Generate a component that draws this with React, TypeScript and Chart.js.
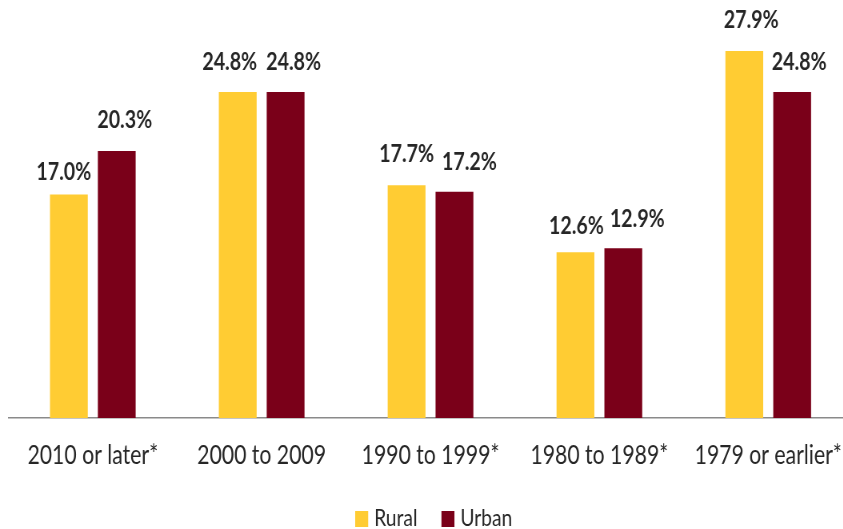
import React, { useEffect, useRef } from "react";
import { Chart, registerables } from "chart.js";

Chart.register(...registerables);

const categories = ["2010 or later*", "2000 to 2009", "1990 to 1999*", "1980 to 1989*", "1979 or earlier*"];
const ruralValues = [17.0, 24.8, 17.7, 12.6, 27.9];
const urbanValues = [20.3, 24.8, 17.2, 12.9, 24.8];
const seriesNames = ["Rural", "Urban"];

const RURAL_COLOR = "#FFCC33";
const URBAN_COLOR = "#7A0019";
const TEXT_COLOR = "#262626";
const FAMILY = "Lato, 'Open Sans', sans-serif";

// the original picture is horizontally condensed; draw wide and squeeze it
const SQUEEZE = 0.8;
const VIEW_W = 843;
const VIEW_H = 529;
const CANVAS_W = Math.round(860 / SQUEEZE);

// small label nudges (dx, dy) in screen pixels, mimicking the original label placement
const labelNudges = [
  [[-5, 8], [-8, 0], [0, -1], [1, 4], [7, -1]],
  [[8, -1], [8, 0], [15, 0], [14, 1], [7, 0]],
];

const valueLabelPlugin = {
  id: "valueLabels",
  afterDatasetsDraw(chart: any) {
    const ctx = chart.ctx;
    ctx.save();
    ctx.font = `bold 24.5px ${FAMILY}`;
    ctx.fillStyle = TEXT_COLOR;
    ctx.textAlign = "center";
    ctx.textBaseline = "alphabetic";
    chart.data.datasets.forEach((ds: any, di: number) => {
      const meta = chart.getDatasetMeta(di);
      meta.data.forEach((bar: any, i: number) => {
        const v = ds.data[i] as number;
        const n = labelNudges[di][i];
        ctx.fillText(v.toFixed(1) + "%", bar.x + n[0] / SQUEEZE, bar.y - 22 + n[1]);
      });
    });
    ctx.restore();
  },
};

const customLegendPlugin = {
  id: "customLegend",
  afterDraw(chart: any) {
    const ctx = chart.ctx;
    const area = chart.chartArea;
    ctx.save();
    ctx.font = `24px ${FAMILY}`;
    ctx.textBaseline = "alphabetic";
    ctx.textAlign = "left";
    const boxW = 13 / SQUEEZE;
    const boxH = 16;
    const gap = 6 / SQUEEZE;
    const spacing = 24 / SQUEEZE;
    const items = chart.data.datasets.map((ds: any) => ({
      label: ds.label,
      color: ds.backgroundColor,
      w: ctx.measureText(ds.label).width,
    }));
    const total = items.reduce((s: number, it: any, i: number) => s + boxW + gap + it.w + (i > 0 ? spacing : 0), 0);
    let x = (area.left + area.right) / 2 + 4 - total / 2;
    const baseline = 526;
    items.forEach((it: any) => {
      ctx.fillStyle = it.color;
      ctx.fillRect(x, baseline - 15, boxW, boxH);
      ctx.fillStyle = TEXT_COLOR;
      ctx.fillText(it.label, x + boxW + gap, baseline);
      x += boxW + gap + it.w + spacing;
    });
    ctx.restore();
  },
};

export default function App() {
  const canvasRef = useRef<HTMLCanvasElement | null>(null);

  useEffect(() => {
    if (!canvasRef.current) return;
    Chart.defaults.font.family = FAMILY;
    const chart = new Chart(canvasRef.current, {
      type: "bar",
      data: {
        labels: categories,
        datasets: [
          {
            label: seriesNames[0],
            data: ruralValues,
            backgroundColor: RURAL_COLOR,
            categoryPercentage: 0.567,
            barPercentage: 0.79,
          },
          {
            label: seriesNames[1],
            data: urbanValues,
            backgroundColor: URBAN_COLOR,
            categoryPercentage: 0.567,
            barPercentage: 0.79,
          },
        ],
      },
      options: {
        responsive: false,
        animation: false,
        devicePixelRatio: 1,
        layout: {
          padding: {
            left: 8.4 / SQUEEZE,
            right: CANVAS_W - 854.6 / SQUEEZE,
            top: 23.5,
            bottom: 0,
          },
        },
        plugins: {
          legend: { display: false },
          tooltip: { enabled: false },
        },
        scales: {
          x: {
            grid: { display: false, drawTicks: false },
            border: { display: true, color: "#8a8a8a", width: 1.6 },
            ticks: {
              color: TEXT_COLOR,
              font: { size: 26.5, family: FAMILY },
              padding: 22,
              maxRotation: 0,
              autoSkip: false,
            },
            afterFit: (scale: any) => {
              scale.height = 111;
            },
          },
          y: {
            display: false,
            min: 0,
            max: 30,
          },
        },
      },
      plugins: [valueLabelPlugin, customLegendPlugin],
    });
    return () => chart.destroy();
  }, []);

  return (
    <div
      style={{
        position: "fixed",
        left: 0,
        top: 0,
        width: VIEW_W,
        height: VIEW_H,
        overflow: "hidden",
        background: "#fff",
      }}
    >
      <canvas
        ref={canvasRef}
        width={CANVAS_W}
        height={VIEW_H}
        style={{
          display: "block",
          transform: `scaleX(${SQUEEZE})`,
          transformOrigin: "0 0",
        }}
      />
    </div>
  );
}
